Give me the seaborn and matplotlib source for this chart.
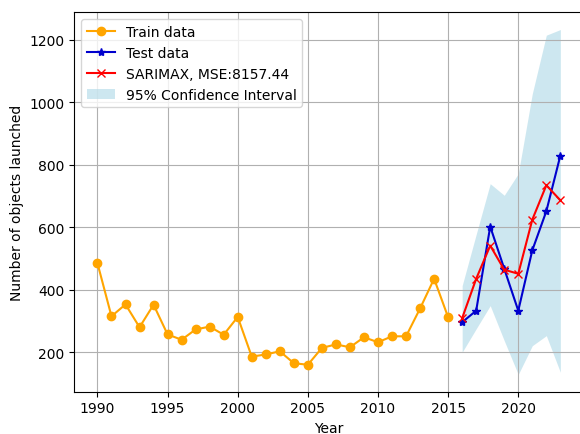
import matplotlib
matplotlib.use("Agg")
import matplotlib.pyplot as plt
import seaborn as sns
import numpy as np

train_years = list(range(1990, 2016))
train_values = [485, 315, 353, 280, 352, 257, 240, 273, 282, 256, 313, 186, 193, 203,
                 165, 160, 214, 225, 216, 248, 232, 251, 251, 340, 435, 312]

test_years = list(range(2016, 2024))
test_values = [296, 333, 602, 467, 333, 526, 651, 829]
pred_values = [309, 435, 541, 464, 451, 624, 734, 686]
ci_lower = [200, 275, 349, 237, 129, 221, 253, 136]
ci_upper = [413, 577, 739, 702, 771, 1027, 1214, 1232]

mse_label = "SARIMAX, MSE:8157.44"

fig = plt.figure(figsize=(5.8, 4.35), dpi=100)
ax = fig.add_axes([74.3 / 580, 1 - 392.7 / 435, (583.5 - 74.3) / 580, (392.7 - 13.3) / 435])

sns.lineplot(x=train_years, y=train_values, ax=ax, color="orange", marker="o",
             markersize=6, markeredgecolor="orange", markeredgewidth=1,
             linewidth=1.5, label="Train data")
sns.lineplot(x=test_years, y=test_values, ax=ax, color="mediumblue", marker="*",
             markersize=6, markeredgecolor="mediumblue", markeredgewidth=1,
             linewidth=1.5, label="Test data")
sns.lineplot(x=test_years, y=pred_values, ax=ax, color="red", marker="x",
             markersize=6, markeredgecolor="red", markeredgewidth=1,
             linewidth=1.5, label=mse_label)
ax.fill_between(test_years, ci_lower, ci_upper, color="lightblue", alpha=0.6,
                linewidth=0, label="95% Confidence Interval")

ax.set_xlabel("Year")
ax.set_ylabel("Number of objects launched")
ax.grid(True)
ax.legend(loc="upper left")

fig.savefig("out.png", dpi=100)
